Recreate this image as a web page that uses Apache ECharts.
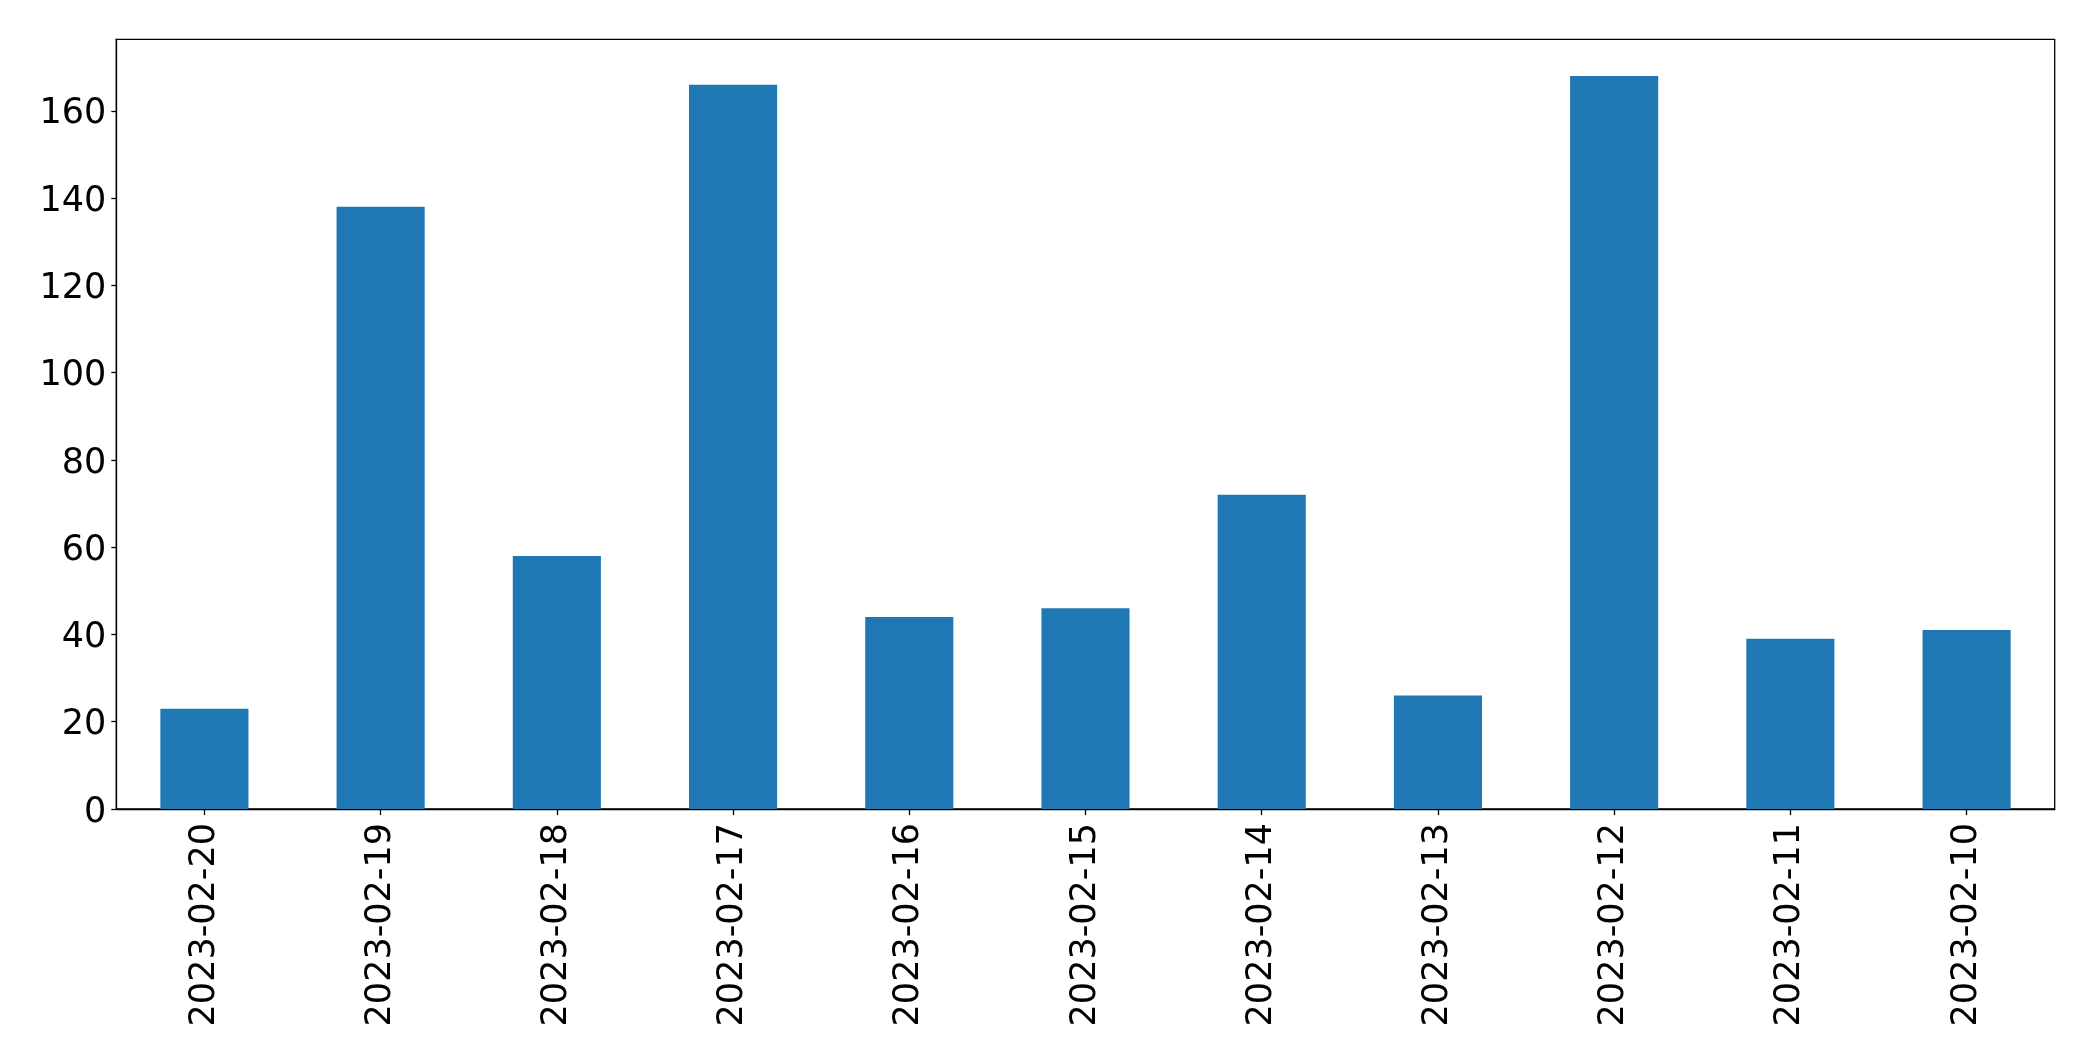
<!DOCTYPE html>
<html>
<head>
<meta charset="utf-8">
<script src="https://cdn.jsdelivr.net/npm/echarts@6/dist/echarts.min.js"></script>
<style>
html,body{margin:0;padding:0;background:#fff;}
#c{width:2093px;height:1061px;}
</style>
</head>
<body>
<div id="c"></div>
<script>
const categories = ['2023-02-20','2023-02-19','2023-02-18','2023-02-17','2023-02-16','2023-02-15','2023-02-14','2023-02-13','2023-02-12','2023-02-11','2023-02-10'];
const values = [23, 138, 58, 166, 44, 46, 72, 26, 168, 39, 41];
const yTicks = [0, 20, 40, 60, 80, 100, 120, 140, 160];
const yMax = 176.4;

const font = 'DejaVu Sans';
const chart = echarts.init(document.getElementById('c'), null, {renderer: 'canvas'});
chart.setOption({
  animation: false,
  backgroundColor: '#ffffff',
  grid: {
    left: 116.3, top: 39.3, right: 38.3, bottom: 252,
    show: true, borderColor: '#000', borderWidth: 1.3, backgroundColor: 'transparent'
  },
  xAxis: {
    type: 'category',
    data: categories,
    boundaryGap: true,
    axisLine: {show: true, lineStyle: {color: '#000', width: 1.3}},
    axisTick: {show: true, alignWithLabel: true, length: 6, lineStyle: {color: '#000', width: 1.3}},
    axisLabel: {rotate: 90, margin: 14, fontFamily: font, fontSize: 35, color: '#000', interval: 0},
    splitLine: {show: false}
  },
  yAxis: {
    type: 'value',
    min: 0, max: yMax,
    axisLine: {show: true, lineStyle: {color: '#000', width: 1.3}},
    axisTick: {show: true, length: 5, lineStyle: {color: '#000', width: 1.3}, customValues: yTicks},
    axisLabel: {
      margin: 10, fontFamily: font, fontSize: 35, color: '#000', customValues: yTicks,
      formatter: function (v) { return '{a|' + v + '}'; },
      rich: {a: {fontFamily: font, fontSize: 35, color: '#000', padding: [7, 0, 0, 0]}}
    },
    splitLine: {show: false}
  },
  series: [{
    type: 'bar',
    data: values,
    barWidth: '50%',
    itemStyle: {color: '#1f77b4'}
  }]
});
</script>
</body>
</html>
